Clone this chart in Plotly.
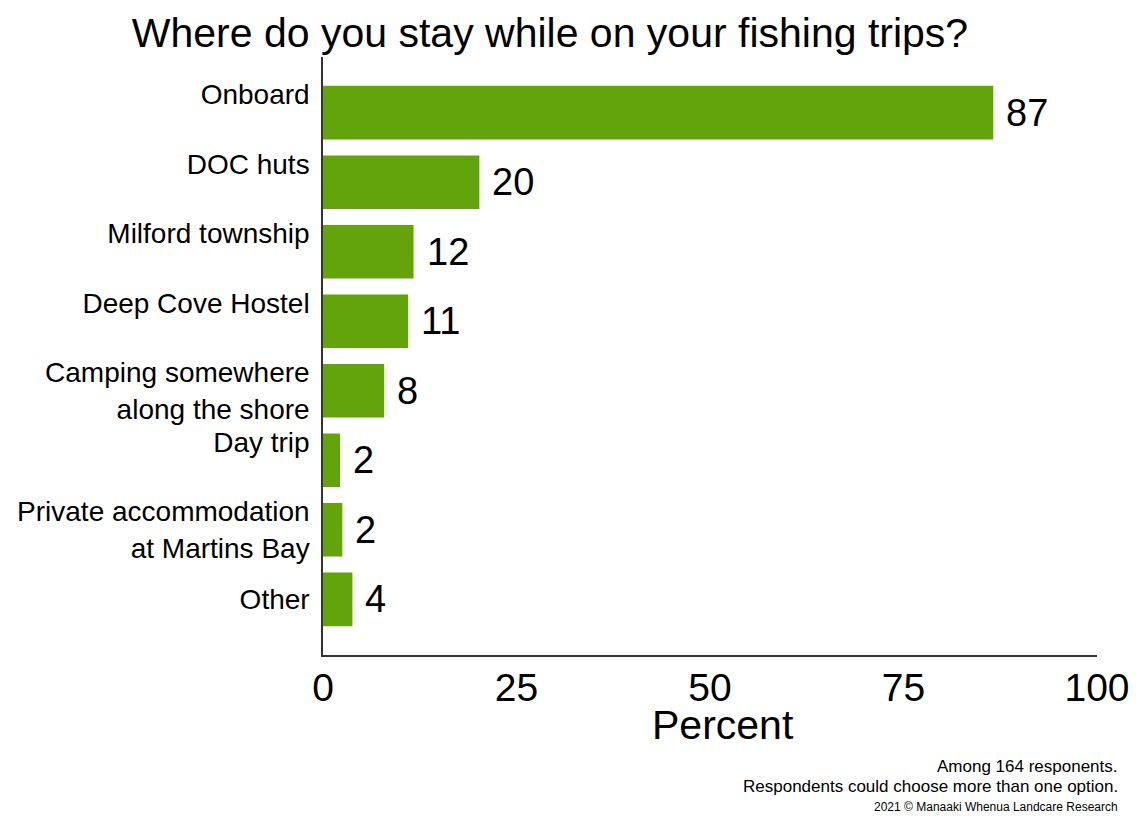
import plotly.graph_objects as go

categories = ["Onboard", "DOC huts", "Milford township", "Deep Cove Hostel",
              "Camping somewhere along the shore", "Day trip",
              "Private accommodation at Martins Bay", "Other"]
tick_labels = ["Onboard<br> ", "DOC huts<br> ", "Milford township<br> ", "Deep Cove Hostel<br> ",
               "Camping somewhere<br>along the shore", "Day trip<br> ",
               "Private accommodation<br>at Martins Bay", "Other"]
values = [86.6, 20.2, 11.7, 11.0, 7.9, 2.2, 2.5, 3.8]
value_labels = ["87", "20", "12", "11", "8", "2", "2", "4"]
x_ticks = [0, 25, 50, 75, 100]

W, H = 1138, 816
L, R, T, B = 323, 41, 57, 161
GREEN = "#63A40D"
REG = "Liberation Sans, Arial, sans-serif"

def px_x(px):
    return (px - L) / (W - L - R)

def px_y(py):
    return (H - B - py) / (H - B - T)

fig = go.Figure()
fig.add_trace(go.Bar(
    y=categories, x=values, orientation="h",
    marker=dict(color=GREEN, line=dict(width=0)),
    width=0.77, hoverinfo="skip",
))

for c, v, lab in zip(categories, values, value_labels):
    fig.add_annotation(x=v, y=c, text=lab, showarrow=False, xanchor="left",
                       yanchor="middle", xshift=11,
                       font=dict(family=REG, size=38, color="black"))

# x-axis title
fig.add_annotation(xref="paper", yref="paper", x=px_x(723), y=px_y(725),
                   text="Percent", showarrow=False, xanchor="center", yanchor="middle",
                   font=dict(family=REG, size=41, color="black"))

foot = [
    ("Among 164 responents.", 767, 17),
    ("Respondents could choose more than one option.", 786, 17),
    ("2021 \u00a9 Manaaki Whenua Landcare Research", 807, 12),
]
for txt, yy, sz in foot:
    fig.add_annotation(xref="paper", yref="paper", x=px_x(1120), y=px_y(yy),
                       text=txt, showarrow=False, xanchor="right", yanchor="middle",
                       font=dict(family=REG, size=sz, color="black"))

fig.update_layout(
    width=W, height=H,
    margin=dict(l=L, r=R, t=T, b=B, pad=0, autoexpand=False),
    paper_bgcolor="white", plot_bgcolor="white",
    showlegend=False,
    title=dict(text="Where do you stay while on your fishing trips?",
               x=550 / W, xanchor="center", xref="container",
               y=1 - 33 / H, yanchor="middle", yref="container",
               font=dict(family=REG, size=41, color="black")),
    xaxis=dict(range=[0, 100], tickvals=x_ticks, ticktext=[str(t) for t in x_ticks],
               showgrid=False, zeroline=False, showline=True, linecolor="#333333",
               linewidth=1.5, ticks="", ticklabelstandoff=-3, automargin=False,
               tickfont=dict(family=REG, size=39, color="black")),
    yaxis=dict(categoryorder="array", categoryarray=categories,
               tickvals=categories, ticktext=tick_labels,
               range=[len(categories) - 1 + 0.8, -0.8], automargin=False,
               showgrid=False, zeroline=False, showline=True, linecolor="#333333",
               linewidth=1.5, ticks="", ticklabelstandoff=6,
               tickfont=dict(family=REG, size=28, color="black")),
)

fig.write_html("out.html", config={"displayModeBar": False},
               post_script="document.body.style.margin='0';")
